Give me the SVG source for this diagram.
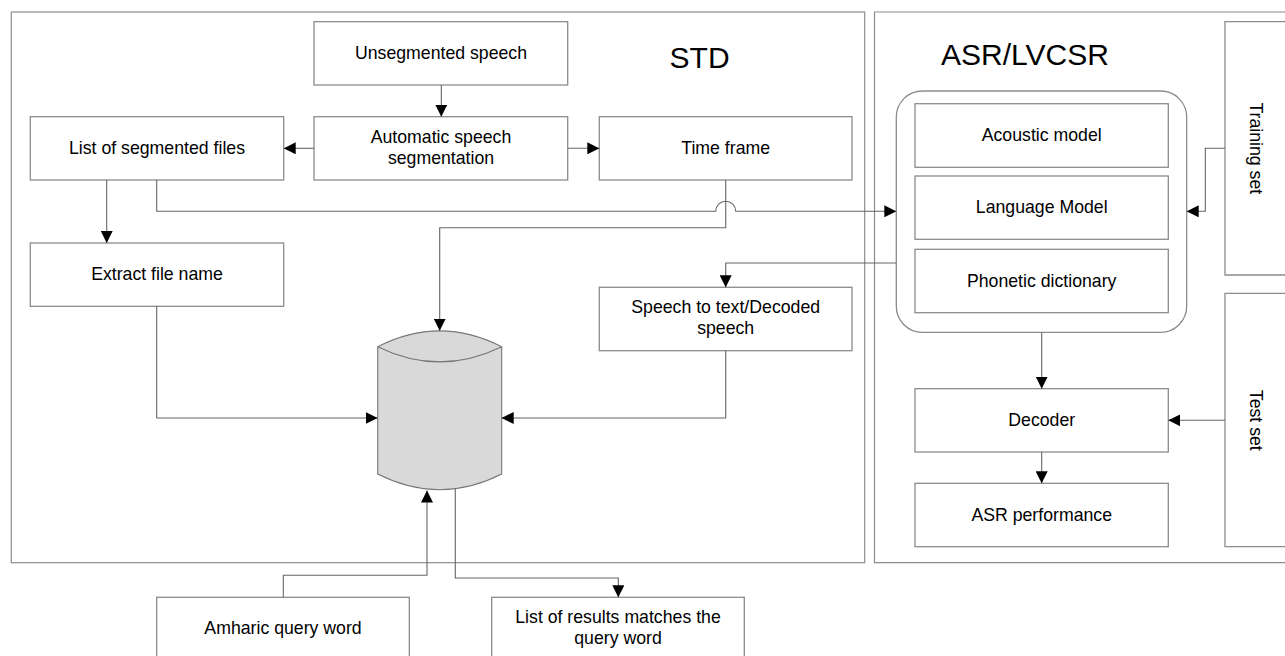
<svg xmlns="http://www.w3.org/2000/svg" width="1285" height="656" viewBox="0 0 1285 656">
<style>
.box{fill:#fff;stroke:#8c8c8c;stroke-width:1.3}
.frame{fill:none;stroke:#8c8c8c;stroke-width:1.2}
.t{font-family:"Liberation Sans",Arial,sans-serif;font-size:17.7px;fill:#000;text-anchor:middle}
.title{font-family:"Liberation Sans",Arial,sans-serif;font-size:30px;fill:#000;text-anchor:middle}
.c{fill:none;stroke:#666;stroke-width:1.1}
</style>
<defs>
<marker id="ah" markerUnits="userSpaceOnUse" markerWidth="12" markerHeight="12" refX="12" refY="6" orient="auto">
<path d="M0,0 L12,6 L0,12 z" fill="#000"/>
</marker>
</defs>
<rect width="1285" height="656" fill="#fff"/>
<g id="frame-std">
<rect class="frame" x="11.3" y="12" width="853.4" height="550.7"/>
<text class="title" x="699.6" y="68.3">STD</text>
</g>
<g id="frame-asr">
<path class="frame" d="M1290,12 H874.5 V562.7 H1290"/>
<text class="title" x="1025" y="65">ASR/LVCSR</text>
</g>
<g id="unsegmented">
<rect class="box" x="314" y="21.7" width="253.7" height="63.3"/>
<text class="t" x="441" y="59">Unsegmented speech</text>
</g>
<g id="auto-seg">
<rect class="box" x="314" y="116.7" width="253.7" height="63.3"/>
<text class="t" x="441" y="143">Automatic speech</text>
<text class="t" x="441" y="164">segmentation</text>
</g>
<g id="list-seg">
<rect class="box" x="30.3" y="116.7" width="253.4" height="63.3"/>
<text class="t" x="157" y="154">List of segmented files</text>
</g>
<g id="time-frame">
<rect class="box" x="599.3" y="116.7" width="252.7" height="63.3"/>
<text class="t" x="725.7" y="154">Time frame</text>
</g>
<g id="extract">
<rect class="box" x="30.3" y="243" width="253.4" height="63.3"/>
<text class="t" x="157" y="280.2">Extract file name</text>
</g>
<g id="speech-text">
<rect class="box" x="599.3" y="287.3" width="252.7" height="63.4"/>
<text class="t" x="725.7" y="313">Speech to text/Decoded</text>
<text class="t" x="725.7" y="334">speech</text>
</g>
<g id="database">
<path d="M377.7,346.7 Q439.7,315 501.7,346.7 V474 Q439.7,505.5 377.7,474 Z" fill="#d9d9d9" stroke="#777" stroke-width="1.1"/>
<path d="M377.7,346.7 Q439.7,377 501.7,346.7" fill="none" stroke="#777" stroke-width="1.1"/>
</g>
<g id="amharic">
<rect class="box" x="156.7" y="597.3" width="252.6" height="63.3"/>
<text class="t" x="283" y="634">Amharic query word</text>
</g>
<g id="results">
<rect class="box" x="491.7" y="597.3" width="252.6" height="63.3"/>
<text class="t" x="618" y="623">List of results matches the</text>
<text class="t" x="618" y="644">query word</text>
</g>
<g id="asr-models">
<rect class="box" x="896.3" y="91" width="290.4" height="241.3" rx="26" ry="26"/>
</g>
<g id="acoustic">
<rect class="box" x="915" y="103.7" width="253.3" height="63.6"/>
<text class="t" x="1041.7" y="140.7">Acoustic model</text>
</g>
<g id="language">
<rect class="box" x="915" y="176" width="253.3" height="63.3"/>
<text class="t" x="1041.7" y="213">Language Model</text>
</g>
<g id="phonetic">
<rect class="box" x="915" y="249.3" width="253.3" height="63.4"/>
<text class="t" x="1041.7" y="286.5">Phonetic dictionary</text>
</g>
<g id="decoder">
<rect class="box" x="915" y="388.7" width="253.3" height="63.3"/>
<text class="t" x="1041.7" y="426">Decoder</text>
</g>
<g id="asr-perf">
<rect class="box" x="915" y="483.3" width="253.3" height="63.4"/>
<text class="t" x="1041.7" y="520.5">ASR performance</text>
</g>
<g id="training">
<path class="box" d="M1290,21.7 H1225 V275 H1290"/>
<text class="t" transform="translate(1250,148.3) rotate(90)">Training set</text>
</g>
<g id="test">
<path class="box" d="M1290,293.3 H1225 V546.7 H1290"/>
<text class="t" transform="translate(1250,420.3) rotate(90)">Test set</text>
</g>
<g id="connectors">
<path class="c" d="M441.3,85 V116.7" marker-end="url(#ah)"/>
<path class="c" d="M314,148.3 H283.7" marker-end="url(#ah)"/>
<path class="c" d="M567.7,148.3 H599.3" marker-end="url(#ah)"/>
<path class="c" d="M106.7,180 V243" marker-end="url(#ah)"/>
<path class="c" d="M156.7,180 V211.3 H715.7 A10,10 0 0 1 735.7,211.3 H896.3" marker-end="url(#ah)"/>
<path class="c" d="M725.7,180 V227.7 H439.7 V330.7" marker-end="url(#ah)"/>
<path class="c" d="M896.3,263 H725.7 V287.3" marker-end="url(#ah)"/>
<path class="c" d="M156.7,306.3 V418 H377.7" marker-end="url(#ah)"/>
<path class="c" d="M725.7,350.7 V418 H501.7" marker-end="url(#ah)"/>
<path class="c" d="M283.3,597.3 V575.3 H427 V490.5" marker-end="url(#ah)"/>
<path class="c" d="M455.3,488.5 V578 H618.3 V597.3" marker-end="url(#ah)"/>
<path class="c" d="M1225,148.3 H1205.3 V211.3 H1186.7" marker-end="url(#ah)"/>
<path class="c" d="M1041.7,332.3 V388.7" marker-end="url(#ah)"/>
<path class="c" d="M1225,420.3 H1168.3" marker-end="url(#ah)"/>
<path class="c" d="M1041.7,452 V483.3" marker-end="url(#ah)"/>
</g>
</svg>
